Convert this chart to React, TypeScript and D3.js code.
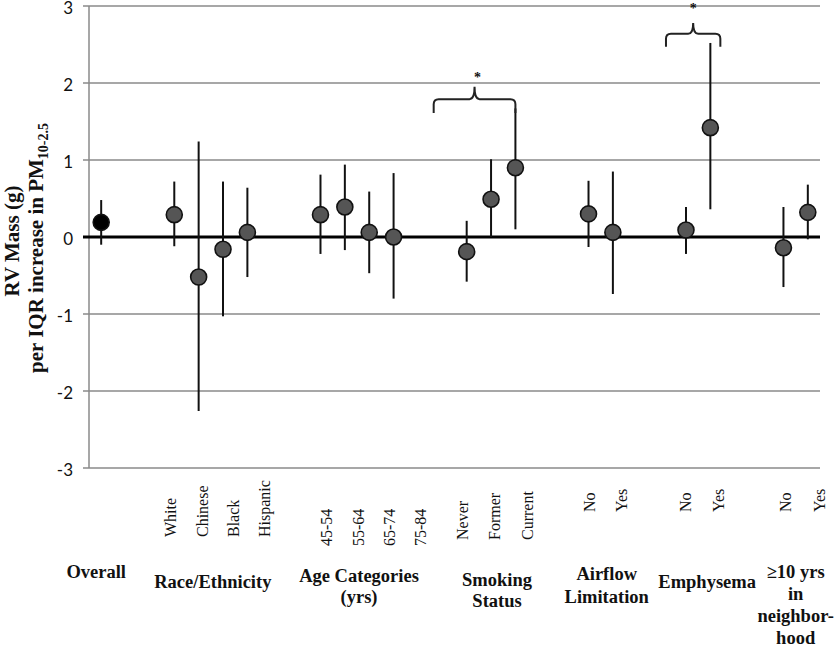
import React from "react";
import * as d3 from "d3";

// ---- data ----
const groupTitles: string[][] = [
  ["Overall"],
  ["Race/Ethnicity"],
  ["Age Categories", "(yrs)"],
  ["Smoking", "Status"],
  ["Airflow", "Limitation"],
  ["Emphysema"],
  ["≥10 yrs", "in", "neighbor-", "hood"],
];
const groupCategories: string[][] = [
  [""],
  ["White", "Chinese", "Black", "Hispanic"],
  ["45-54", "55-64", "65-74", "75-84"],
  ["Never", "Former", "Current"],
  ["No", "Yes"],
  ["No", "Yes"],
  ["No", "Yes"],
];
const estimates: number[][] = [
  [0.19],
  [0.29, -0.52, -0.16, 0.06],
  [0.29, 0.39, 0.06, 0.0],
  [-0.19, 0.49, 0.9],
  [0.3, 0.06],
  [0.09, 1.42],
  [-0.14, 0.32],
];
const lowerCI: number[][] = [
  [-0.1],
  [-0.12, -2.26, -1.03, -0.52],
  [-0.22, -0.17, -0.47, -0.8],
  [-0.58, 0.0, 0.1],
  [-0.13, -0.74],
  [-0.22, 0.36],
  [-0.65, -0.03],
];
const upperCI: number[][] = [
  [0.48],
  [0.72, 1.24, 0.72, 0.64],
  [0.81, 0.94, 0.59, 0.83],
  [0.21, 1.01, 1.67],
  [0.73, 0.85],
  [0.39, 2.52],
  [0.39, 0.68],
];
const yTicks = [-3, -2, -1, 0, 1, 2, 3];
// significance brackets: group index, end level, bar level, peak level, star level
const bracketGroups = [3, 5];
const bracketEnds = [1.61, 2.47];
const bracketBars = [1.79, 2.64];
const bracketPeaks = [1.95, 2.78];
const bracketStars = [2.1, 3.0];

// ---- layout / style ----
const W = 840;
const H = 647;
const left = 89;
const right = 820;
const top = 6;
const bottom = 468;
const GAP = 2;
const serif = "'Liberation Serif', 'Times New Roman', serif";

const groupLabelOffset = [0, -3, 7, -4, 1, 0, 3];
const groupLabelSpacing = [32, 31.4, 31.2, 32.5, 32.7, 33, 33.3];
const groupLabelBottom = [537, 537, 546, 540, 512, 512, 512];
const groupTitleDx = [-5, 2, 2, 6, 6, 9, 0];
const groupTitleBaseline = [578, 588, 582, 586, 580, 588, 578];
const groupTitleLineH = [22, 22, 21, 21, 23, 22, 22];
const bracketX0Off = [-33, -20];
const bracketX1Off = [0, 10];

export default function App() {
  // slot positions
  const slots: number[][] = [];
  let s = 0;
  groupCategories.forEach((cats) => {
    slots.push(cats.map((_, i) => s + i));
    s += cats.length + GAP;
  });
  const nSlots = s - GAP;

  const x = d3.scaleBand<number>().domain(d3.range(nSlots)).range([left, right]).padding(0);
  const cx = (slot: number) => (x(slot) as number) + x.bandwidth() / 2;
  const y = d3.scaleLinear().domain([-3, 3]).range([bottom, top]);

  const points: { x: number; est: number; lo: number; hi: number; overall: boolean }[] = [];
  groupCategories.forEach((cats, g) =>
    cats.forEach((_, i) =>
      points.push({
        x: cx(slots[g][i]),
        est: estimates[g][i],
        lo: lowerCI[g][i],
        hi: upperCI[g][i],
        overall: g === 0,
      })
    )
  );

  const bracketPath = (g: number, k: number) => {
    const idx = slots[g];
    const x0 = cx(idx[0]) + bracketX0Off[k];
    const x1 = cx(idx[idx.length - 1]) + bracketX1Off[k];
    const xm = (x0 + x1) / 2;
    const yE = y(bracketEnds[k]);
    const yH = y(bracketBars[k]);
    const yP = y(bracketPeaks[k]);
    const r = 5;
    const p = d3.path();
    p.moveTo(x0, yE);
    p.lineTo(x0, yH + r);
    p.quadraticCurveTo(x0, yH, x0 + r, yH);
    p.lineTo(xm - r, yH);
    p.quadraticCurveTo(xm, yH, xm, yP);
    p.quadraticCurveTo(xm, yH, xm + r, yH);
    p.lineTo(x1 - r, yH);
    p.quadraticCurveTo(x1, yH, x1, yH + r);
    p.lineTo(x1, yE);
    return { d: p.toString(), xm };
  };

  return (
    <svg
      width={W}
      height={H}
      style={{ position: "absolute", left: 0, top: 0, background: "#fff" }}
    >
      {/* gridlines */}
      {yTicks
        .filter((t) => t !== 0)
        .map((t) => (
          <line key={t} x1={left} x2={right} y1={y(t)} y2={y(t)} stroke="#8a8a8a" strokeWidth={1.5} />
        ))}
      {/* y axis */}
      <line x1={left} x2={left} y1={top} y2={bottom} stroke="#8a8a8a" strokeWidth={1.5} />
      {yTicks.map((t) => (
        <line key={"tk" + t} x1={left - 6} x2={left} y1={y(t)} y2={y(t)} stroke={t === 0 ? "#000" : "#8a8a8a"} strokeWidth={t === 0 ? 3 : 1.5} />
      ))}
      {yTicks.map((t) => (
        <text
          key={"tl" + t}
          x={73}
          y={y(t) + 7.5}
          textAnchor="end"
          fontFamily="Lato, 'Open Sans', sans-serif"
          fontSize={17}
          fill="#111"
        >
          {t}
        </text>
      ))}
      {/* zero line */}
      <line x1={left} x2={right} y1={y(0)} y2={y(0)} stroke="#000" strokeWidth={3} />

      {/* y axis title */}
      <text
        transform={`translate(19, 241) rotate(-90)`}
        textAnchor="middle"
        fontFamily={serif}
        fontWeight="bold"
        fontSize={21}
        fill="#111"
      >
        RV Mass (g)
      </text>
      <text
        transform={`translate(43, 248) rotate(-90)`}
        textAnchor="middle"
        fontFamily={serif}
        fontWeight="bold"
        fontSize={21}
        fill="#111"
      >
        per IQR increase in PM
        <tspan fontSize={14} dy={5}>
          10-2.5
        </tspan>
      </text>

      {/* error bars */}
      {points.map((p, i) => (
        <line key={"e" + i} x1={p.x} x2={p.x} y1={y(p.lo)} y2={y(p.hi)} stroke="#111" strokeWidth={2} />
      ))}
      {/* points */}
      {points.map((p, i) => (
        <circle
          key={"c" + i}
          cx={p.x}
          cy={y(p.est)}
          r={8}
          fill={p.overall ? "#000" : "#555555"}
          stroke="#111"
          strokeWidth={1.6}
        />
      ))}

      {/* brackets */}
      {bracketGroups.map((g, k) => {
        const b = bracketPath(g, k);
        return (
          <g key={"b" + k}>
            <path d={b.d} fill="none" stroke="#222" strokeWidth={2} />
            <text
              x={b.xm + (k === 0 ? 3 : 0)}
              y={y(bracketStars[k]) + 7}
              textAnchor="middle"
              fontFamily={serif}
              fontWeight="bold"
              fontSize={14}
              fill="#111"
            >
              *
            </text>
          </g>
        );
      })}

      {/* category labels */}
      {groupCategories.map((cats, g) =>
        cats.map((c, i) =>
          c ? (
            <text
              key={`cl${g}-${i}`}
              transform={`translate(${cx(slots[g][0]) + groupLabelOffset[g] + i * groupLabelSpacing[g] + 5}, ${groupLabelBottom[g]}) rotate(-90)`}
              textAnchor="start"
              fontFamily={serif}
              fontSize={16}
              fill="#111"
            >
              {c}
            </text>
          ) : null
        )
      )}

      {/* group titles */}
      {groupTitles.map((lines, g) => {
        const idx = slots[g];
        const center = (cx(idx[0]) + cx(idx[idx.length - 1])) / 2 + groupTitleDx[g];
        return (
          <text
            key={"gt" + g}
            textAnchor="middle"
            fontFamily={serif}
            fontWeight="bold"
            fontSize={18.5}
            fill="#111"
          >
            {lines.map((ln, j) => (
              <tspan key={j} x={center} y={groupTitleBaseline[g] + j * groupTitleLineH[g]}>
                {ln}
              </tspan>
            ))}
          </text>
        );
      })}
    </svg>
  );
}
